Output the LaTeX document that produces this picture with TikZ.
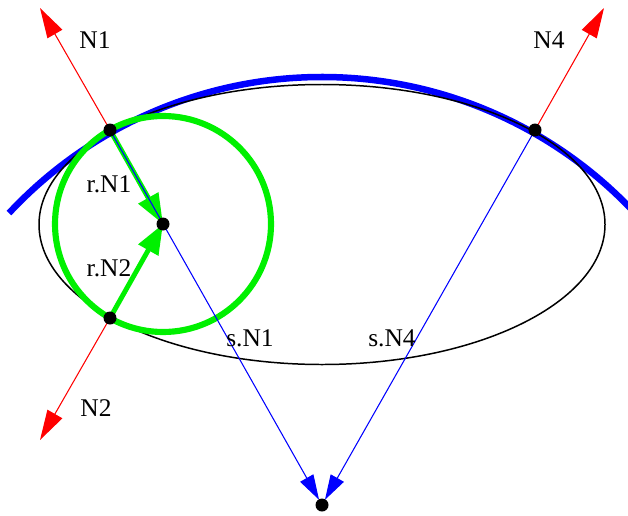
\documentclass[tikz,border=0pt]{standalone}
\usepackage{fontspec}
\setmainfont{Liberation Serif}
\usepackage{tikz}
\usetikzlibrary{arrows.meta}
\usepackage{xcolor}
\definecolor{nred}{RGB}{255,0,0}
\definecolor{sblue}{RGB}{0,0,255}
\definecolor{rgreen}{RGB}{0,240,0}
\tikzset{
  dot/.style={circle, fill=black, inner sep=0pt, minimum size=0.26cm},
  nvec/.style={-{Triangle[length=0.6cm, width=0.34cm]}, line width=0.6pt, color=nred},
  svec/.style={-{Triangle[length=0.5cm, width=0.3cm]}, line width=0.6pt, color=sblue, shorten >=0.12cm},
  rvec/.style={-{Triangle[length=0.6cm, width=0.44cm]}, line width=2.8pt, color=rgreen},
  lab/.style={font=\fontsize{14.5}{17}\selectfont, inner sep=0pt},
}

\begin{document}
\begin{tikzpicture}[x=0.02cm, y=0.02cm]
  \useasboundingbox (0,0) rectangle (628,515);
  % points on the ellipse, circle centres, arrow ends
  \coordinate (P1) at (110,385);
  \coordinate (P2) at (110,197);
  \coordinate (P4) at (535,385);
  \coordinate (C) at (163,291);
  \coordinate (S) at (322,10);
  \coordinate (E) at (322,290.5);
  \coordinate (T1) at (40,507);
  \coordinate (T2) at (40,75);
  \coordinate (T4) at (604,507);
  \begin{scope}
    \clip (0,0) rectangle (628,515);
    \draw[sblue, line width=3.7pt] (S) ++(137:428) arc[start angle=137, end angle=42, radius=428];
  \end{scope}
  \draw[line width=0.85pt] (E) ellipse[x radius=283, y radius=140];
  \draw[rgreen, line width=3.5pt] (C) circle[radius=108];
  \draw[nvec] (P1) -- (T1); \draw[nvec] (P2) -- (T2); \draw[nvec] (P4) -- (T4);
  \draw[rvec] (P1) -- (C); \draw[rvec] (P2) -- (C);
  \draw[svec] (P1) -- (S); \draw[svec] (P4) -- (S);
  \foreach \p in {P1,P2,P4,C,S} \node[dot] (d\p) at (\p) {};
  \node[lab] (n1) at (95,475) {N1};
  \node[lab] (n4) at (549,475) {N4};
  \node[lab] (n2) at (96,107) {N2};
  \node[lab] (rn1) at (109,331) {r.N1};
  \node[lab] (rn2) at (109,247) {r.N2};
  \node[lab] (sn1) at (250,177) {s.N1};
  \node[lab] (sn4) at (392,177) {s.N4};
\end{tikzpicture}
\end{document}
